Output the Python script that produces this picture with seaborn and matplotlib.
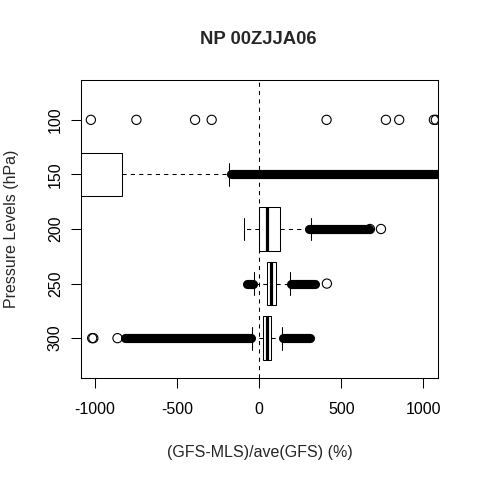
import matplotlib
matplotlib.use("Agg")
import pandas as pd
import seaborn as sns
import matplotlib.pyplot as plt

sns.set_theme(style="white")
plt.rcParams['font.family'] = ['Liberation Sans', 'DejaVu Sans']

# pressure levels (hPa), top to bottom
levels = [100, 150, 200, 250, 300]

# box statistics per level (level 100 has no visible box)
box_levels = [150, 200, 250, 300]
whis_lo = [-1400, -89, -28, -41]
q1 = [-1300, 2, 51, 26]
median = [-1150, 47, 75, 51]
q3 = [-831, 130, 105, 75]
whis_hi = [-180, 318, 190, 142]

# isolated outliers
out_level = [100, 100, 100, 100, 100, 100, 100, 100, 100,
             200, 200, 250, 300, 300, 300]
out_value = [-1023, -746, -389, -288, 411, 772, 853, 1064, 1076,
             675, 742, 413, -1015, -1008, -861]

# dense runs of outliers (start, end)
band_level = [150, 200, 250, 250, 300, 300]
band_lo = [-170, 305, -72, 196, -815, 148]
band_hi = [1200, 668, -36, 342, -50, 312]

pos = {lv: i + 1 for i, lv in enumerate(levels)}

fig = plt.figure(figsize=(4.8, 4.8), dpi=100)
ax = fig.add_axes([81 / 480, 1 - 378 / 480, 357 / 480, 298 / 480])

stats = []
for i, lv in enumerate(box_levels):
    stats.append(dict(whislo=whis_lo[i], q1=q1[i], med=median[i],
                      q3=q3[i], whishi=whis_hi[i], fliers=[]))

dash = (0, (4, 4))
ax.bxp(stats, positions=[pos[lv] for lv in box_levels], vert=False,
       widths=0.8, capwidths=0.42, showfliers=False, patch_artist=True,
       boxprops=dict(facecolor='white', edgecolor='black', linewidth=0.75),
       whiskerprops=dict(color='black', linewidth=0.75, linestyle=dash),
       capprops=dict(color='black', linewidth=0.75),
       medianprops=dict(color='black', linewidth=2.3, solid_capstyle='butt'))

# dense outlier runs drawn as a thick round-capped stroke
for lv, lo, hi in zip(band_level, band_lo, band_hi):
    ax.plot([lo, hi], [pos[lv], pos[lv]], color='black', linewidth=6.6,
            solid_capstyle='round', zorder=3)

outliers = pd.DataFrame({'value': out_value,
                         'pos': [pos[lv] for lv in out_level]})
sns.scatterplot(data=outliers, x='value', y='pos', ax=ax, marker='o',
                s=44, facecolor='none', edgecolor='black', linewidth=0.8,
                zorder=4, legend=False)

ax.axvline(0, color='black', linewidth=0.75, linestyle=dash, zorder=5)

ax.set_xlim(-1083, 1089)
ax.set_ylim(5.73, 0.27)
ax.set_xticks([-1000, -500, 0, 500, 1000])
ax.set_xticklabels(['-1000', '-500', '0', '500', '1000'])
ax.set_yticks([pos[lv] for lv in levels])
ax.set_yticklabels([str(lv) for lv in levels], rotation=90, va='center')
ax.set_xlabel('')
ax.set_ylabel('')
ax.tick_params(axis='both', which='both', direction='out', length=7.5,
               width=0.75, color='black', labelsize=11.5, labelcolor='black',
               bottom=True, left=True)
ax.tick_params(axis='x', pad=10)
ax.tick_params(axis='y', pad=5.5)
for s in ax.spines.values():
    s.set_color('black')
    s.set_linewidth(0.75)

fig.text(258.5 / 480, 1 - 40 / 480, 'NP 00ZJJA06', ha='center', va='center',
         fontsize=13.3, fontweight='bold')
fig.text(259.5 / 480, 1 - 452 / 480, '(GFS-MLS)/ave(GFS) (%)', ha='center',
         va='center', fontsize=11.5)
fig.text(12 / 480, 1 - 229 / 480, 'Pressure Levels (hPa)', ha='center',
         va='center', rotation=90, fontsize=11.5)

fig.savefig('out.png', dpi=100, facecolor='white')
